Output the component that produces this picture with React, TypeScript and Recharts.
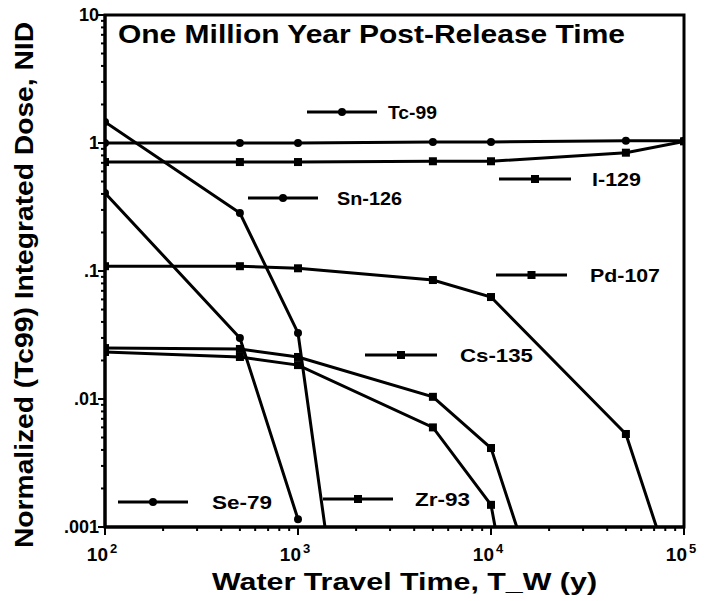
import { LineChart, Line, XAxis, YAxis, ReferenceArea } from 'recharts'

// water travel time (y) and normalized integrated dose for each nuclide
const TC99_T = [100, 500, 1000, 5000, 10000, 50000, 100000]
const TC99_V = [1.0, 1.0, 1.0, 1.02, 1.02, 1.04, 1.04]

const I129_T = [100, 500, 1000, 5000, 10000, 50000, 100000]
const I129_V = [0.71, 0.71, 0.71, 0.72, 0.72, 0.84, 1.03]

const SN126_T = [100, 500, 1000, 1380]
const SN126_V = [1.46, 0.284, 0.0328, 0.001]

const SE79_T = [100, 500, 1000]
const SE79_V = [0.407, 0.03, 0.00115]

const PD107_T = [100, 500, 1000, 5000, 10000, 50000, 72000]
const PD107_V = [0.109, 0.109, 0.105, 0.085, 0.0626, 0.00533, 0.001]

const CS135_T = [100, 500, 1000, 5000, 10000, 13600]
const CS135_V = [0.025, 0.0246, 0.0213, 0.0104, 0.00414, 0.001]

const ZR93_T = [100, 500, 1000, 5000, 10000, 10500]
const ZR93_V = [0.0233, 0.0213, 0.0184, 0.006, 0.00149, 0.001]

const X_DECADES = [100, 1000, 10000, 100000]
const X_EXPONENTS = ['2', '3', '4', '5']
const Y_DECADES = [0.001, 0.01, 0.1, 1, 10]
const Y_LABELS = ['.001', '.01', '.1', '1', '10']

const TITLE = 'One Million Year Post-Release Time'
const X_TITLE = 'Water Travel Time, T_W (y)'
const Y_TITLE = 'Normalized (Tc99) Integrated Dose, NID'

const FONT = '"Liberation Sans", Arial, Helvetica, sans-serif'

const toRows = (t: number[], v: number[]) => t.map((x, i) => ({ t: x, v: v[i] }))

type Shape = 'circle' | 'square'

const SERIES: { name: string; data: { t: number; v: number }[]; shape: Shape }[] = [
  { name: 'Tc-99', data: toRows(TC99_T, TC99_V), shape: 'circle' },
  { name: 'I-129', data: toRows(I129_T, I129_V), shape: 'square' },
  { name: 'Sn-126', data: toRows(SN126_T, SN126_V), shape: 'circle' },
  { name: 'Se-79', data: toRows(SE79_T, SE79_V), shape: 'circle' },
  { name: 'Pd-107', data: toRows(PD107_T, PD107_V), shape: 'square' },
  { name: 'Cs-135', data: toRows(CS135_T, CS135_V), shape: 'square' },
  { name: 'Zr-93', data: toRows(ZR93_T, ZR93_V), shape: 'square' },
]

// in-plot legend entries (layout only)
const LEGEND_LAYOUT: { name: string; x1: number; x2: number; y: number; tx: number; tw: number; shape: Shape }[] = [
  { name: 'Tc-99', x1: 307, x2: 377, y: 112, tx: 388, tw: 49, shape: 'circle' },
  { name: 'Sn-126', x1: 248, x2: 318, y: 198, tx: 337, tw: 65, shape: 'circle' },
  { name: 'I-129', x1: 499, x2: 571, y: 179, tx: 592, tw: 49, shape: 'square' },
  { name: 'Pd-107', x1: 496, x2: 567, y: 275, tx: 590, tw: 70, shape: 'square' },
  { name: 'Cs-135', x1: 365, x2: 437, y: 355, tx: 460, tw: 73, shape: 'square' },
  { name: 'Se-79', x1: 118, x2: 188, y: 502, tx: 212, tw: 60, shape: 'circle' },
  { name: 'Zr-93', x1: 323, x2: 393, y: 499, tx: 415, tw: 55, shape: 'square' },
]

const minorTicks = (decades: number[]) => {
  const out: number[] = []
  decades.slice(0, -1).forEach((d) => {
    for (let k = 1; k < 10; k++) out.push(+(d * k).toPrecision(3))
  })
  out.push(decades[decades.length - 1])
  return out
}

const X_TICKS = minorTicks(X_DECADES)
const Y_TICKS = minorTicks(Y_DECADES)

function Marker({ cx, cy, shape }: { cx: number; cy: number; shape: Shape }) {
  if (shape === 'circle') return <circle cx={cx} cy={cy} r={4} fill="#000" />
  return <rect x={cx - 4} y={cy - 4} width={8} height={8} fill="#000" />
}

const makeDot = (shape: Shape) => (props: any) => {
  const { cx, cy, payload, index } = props
  // points sitting on the lower frame are only where the curve leaves the plot
  if (payload.v <= 0.001) return <g key={`d-${index}`} />
  return <Marker key={`d-${index}`} cx={cx} cy={cy} shape={shape} />
}

function XTick(props: any) {
  const { x, y, payload } = props
  const i = X_DECADES.indexOf(payload.value)
  const major = i >= 0
  return (
    <g>
      <line x1={x} x2={x} y1={y} y2={y + (major ? 8 : 4)} stroke="#000" strokeWidth={2} />
      {major && (
        <text x={x - 3} y={y + 34} textAnchor="middle" fontFamily={FONT} fontWeight="bold" fontSize={19} fill="#000">
          10
          <tspan dx={2} dy={-8} fontSize={13}>{X_EXPONENTS[i]}</tspan>
        </text>
      )}
    </g>
  )
}

function YTick(props: any) {
  const { x, y, payload } = props
  const i = Y_DECADES.indexOf(payload.value)
  const major = i >= 0
  return (
    <g>
      <line x1={x} x2={x - (major ? 7 : 4)} y1={y} y2={y} stroke="#000" strokeWidth={2} />
      {major && (
        <text x={x - 6} y={y + 6} textAnchor="end" fontFamily={FONT} fontWeight="bold" fontSize={18} fill="#000">
          {Y_LABELS[i]}
        </text>
      )}
    </g>
  )
}

export default function App() {
  return (
    <div style={{ position: 'absolute', left: 0, top: 0, width: 705, height: 601, background: '#fff' }}>
      <LineChart width={705} height={601} margin={{ top: 15, right: 21, bottom: 0, left: 0 }}>
        <XAxis
          type="number"
          dataKey="t"
          scale="log"
          domain={[100, 100000]}
          ticks={X_TICKS}
          interval={0}
          allowDataOverflow
          height={74}
          tickSize={0}
          tickMargin={0}
          tick={<XTick />}
          axisLine={{ stroke: '#000', strokeWidth: 3 }}
        />
        <YAxis
          type="number"
          dataKey="v"
          scale="log"
          domain={[0.001, 10]}
          ticks={Y_TICKS}
          interval={0}
          allowDataOverflow
          width={105}
          tickSize={0}
          tickMargin={0}
          tick={<YTick />}
          axisLine={{ stroke: '#000', strokeWidth: 3 }}
        />
        <ReferenceArea x1={100} x2={100000} y1={0.001} y2={10} fill="none" stroke="#000" strokeWidth={3} />
        {SERIES.map((s) => (
          <Line
            key={s.name}
            data={s.data}
            dataKey="v"
            stroke="#000"
            strokeWidth={3}
            dot={makeDot(s.shape)}
            activeDot={false}
            isAnimationActive={false}
          />
        ))}
      </LineChart>
      <svg width={705} height={601} style={{ position: 'absolute', left: 0, top: 0, pointerEvents: 'none' }}>
        <text x={118} y={43} fontFamily={FONT} fontWeight="bold" fontSize={25} textLength={507} lengthAdjust="spacingAndGlyphs">
          {TITLE}
        </text>
        <text x={212} y={590} fontFamily={FONT} fontWeight="bold" fontSize={23} textLength={385} lengthAdjust="spacingAndGlyphs">
          {X_TITLE}
        </text>
        <text
          x={0}
          y={0}
          transform="translate(33, 548) rotate(-90)"
          fontFamily={FONT}
          fontWeight="bold"
          fontSize={25}
          textLength={526}
          lengthAdjust="spacingAndGlyphs"
        >
          {Y_TITLE}
        </text>
        {LEGEND_LAYOUT.map((l) => (
          <g key={l.name}>
            <line x1={l.x1} x2={l.x2} y1={l.y} y2={l.y} stroke="#000" strokeWidth={3} />
            <Marker cx={(l.x1 + l.x2) / 2} cy={l.y} shape={l.shape} />
            <text
              x={l.tx}
              y={l.y + 7}
              fontFamily={FONT}
              fontWeight="bold"
              fontSize={19}
              textLength={l.tw}
              lengthAdjust="spacingAndGlyphs"
            >
              {l.name}
            </text>
          </g>
        ))}
      </svg>
    </div>
  )
}
